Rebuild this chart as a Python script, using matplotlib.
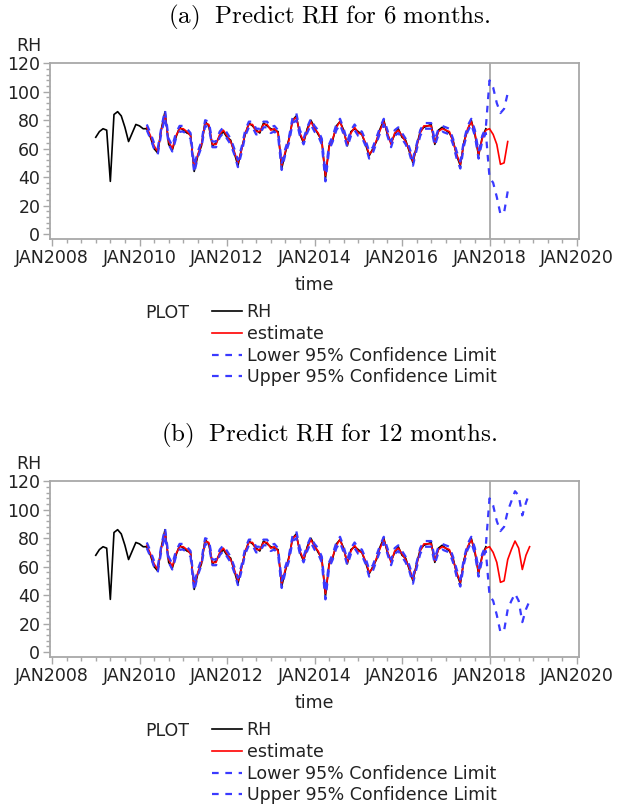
import numpy as np
import matplotlib.pyplot as plt
from matplotlib.ticker import MultipleLocator, FixedLocator

plt.rcParams['mathtext.fontset'] = 'cm'
plt.rcParams['font.family'] = 'DejaVu Sans'

# monthly RH, Jan 2009 - Dec 2017
rh = [68, 72, 74, 73, 37, 84, 86, 83, 75, 65, 71, 77,
      76, 74, 74, 68, 60, 57, 74, 86, 63, 59, 68, 75,
      73, 71, 70, 44, 55, 62, 79, 76, 62, 64, 69, 72,
      68, 66, 57, 48, 60, 70, 78, 76, 73, 71, 78, 76,
      74, 73, 72, 46, 57, 67, 80, 83, 70, 64, 74, 80,
      75, 70, 66, 39, 62, 66, 76, 79, 73, 62, 72, 74,
      72, 70, 63, 55, 60, 65, 74, 80, 70, 64, 70, 74,
      68, 66, 58, 50, 62, 72, 75, 76, 77, 63, 73, 75,
      73, 71, 66, 55, 48, 65, 73, 80, 70, 55, 68, 74]

# one-step estimate and 95% limits, Mar 2010 - Dec 2017
est_fit = [75, 69, 62, 58, 73, 84, 65, 60, 69, 74,
           74, 72, 69, 46, 56, 63, 78, 77, 63, 63, 70, 73,
           69, 65, 58, 50, 59, 71, 77, 77, 72, 72, 77, 77,
           73, 74, 71, 48, 58, 66, 80, 82, 71, 65, 73, 79,
           74, 71, 65, 41, 61, 67, 75, 79, 72, 63, 71, 75,
           71, 70, 64, 56, 59, 66, 73, 79, 71, 63, 71, 73,
           69, 65, 59, 51, 61, 71, 76, 76, 76, 64, 72, 74,
           73, 72, 65, 56, 49, 64, 74, 79, 71, 56, 67, 73]
lower_fit = [73, 67, 60, 56, 71, 82, 63, 58, 67, 72,
             72, 70, 67, 43, 54, 61, 76, 75, 61, 61, 68, 71,
             67, 63, 56, 47, 57, 69, 75, 75, 70, 70, 75, 75,
             71, 72, 69, 45, 56, 64, 78, 80, 69, 63, 71, 77,
             72, 69, 63, 37, 59, 65, 73, 77, 70, 61, 69, 73,
             69, 68, 62, 53, 57, 64, 71, 77, 69, 61, 69, 71,
             67, 63, 57, 48, 59, 69, 74, 74, 74, 62, 70, 72,
             71, 70, 63, 53, 46, 62, 72, 77, 69, 53, 65, 71]
upper_fit = [77, 71, 64, 60, 75, 87, 67, 62, 71, 76,
             76, 74, 71, 48, 58, 65, 80, 79, 65, 65, 72, 75,
             71, 67, 60, 52, 61, 73, 79, 79, 74, 74, 79, 79,
             75, 76, 73, 50, 60, 68, 82, 85, 73, 67, 75, 81,
             76, 73, 67, 43, 63, 69, 77, 81, 74, 65, 73, 77,
             73, 72, 66, 58, 61, 68, 75, 81, 73, 65, 73, 75,
             71, 67, 61, 53, 63, 73, 78, 78, 78, 66, 74, 76,
             75, 74, 67, 58, 51, 66, 76, 81, 73, 58, 69, 75]

# forecasts from Jan 2018
est_fc = [74, 70, 63, 49, 50, 65, 72, 78, 73, 58, 68, 74]
lower_fc = [40, 36, 26, 14, 15, 30, 36, 41, 36, 21, 30, 36]
upper_fc = [108, 103, 92, 85, 88, 99, 106, 113, 110, 96, 105, 112]

horizons = [6, 12]
titles = [r'$\mathrm{(a)\ \ Predict\ RH\ for\ 6\ months.}$',
          r'$\mathrm{(b)\ \ Predict\ RH\ for\ 12\ months.}$']
year_ticks = [2008, 2010, 2012, 2014, 2016, 2018, 2020]

W, H = 624, 805
fig = plt.figure(figsize=(W / 100, H / 100), dpi=100)
grey = '#a8a8a8'
blue = '#3a3aff'
fs = 12.5

t_rh = 2009 + np.arange(len(rh)) / 12
t_fit = 2010 + 2 / 12 + np.arange(len(est_fit)) / 12

for k, h in enumerate(horizons):
    dy = 418 * k
    ax = fig.add_axes([50 / W, 1 - (239 + dy) / H, 529 / W, 176 / H])
    t_fc = 2018 + np.arange(h) / 12
    t_all = np.concatenate([t_fit, t_fc])

    ax.plot(t_rh, rh, color='black', lw=1.2, label='RH')
    ax.plot(t_all, est_fit + est_fc[:h], color='red', lw=1.2, label='estimate')
    ax.plot(t_all, lower_fit + lower_fc[:h], color=blue, lw=1.6,
            dashes=(3, 3), label='Lower 95% Confidence Limit')
    ax.plot(t_all, upper_fit + upper_fc[:h], color=blue, lw=1.6,
            dashes=(3, 3), label='Upper 95% Confidence Limit')
    ax.axvline(2018, color=grey, lw=1.3, zorder=0)

    ax.set_xlim(2008 - 2 / 43.75, 2008 + 527 / 43.75)
    ax.set_ylim(-3.5, 120.2)
    ax.xaxis.set_major_locator(FixedLocator(year_ticks))
    ax.set_xticklabels(['JAN%d' % y for y in year_ticks])
    ax.xaxis.set_minor_locator(MultipleLocator(1 / 3))
    ax.yaxis.set_major_locator(MultipleLocator(20))
    ax.yaxis.set_minor_locator(MultipleLocator(4))
    ax.set_yticks(np.arange(0, 121, 20))
    ax.tick_params(which='both', colors=grey, labelcolor='#222222',
                   labelsize=fs, width=1)
    ax.tick_params(which='major', length=5, pad=2)
    ax.tick_params(which='minor', length=3)
    for s in ax.spines.values():
        s.set_color(grey)
        s.set_linewidth(1.3)

    fig.text(329 / W, 1 - (17 + dy) / H, titles[k], ha='center', va='center',
             fontsize=18)
    fig.text(29 / W, 1 - (46 + dy) / H, 'RH', ha='center', va='center',
             fontsize=fs, color='#222222')
    fig.text(314 / W, 1 - (285 + dy) / H, 'time', ha='center', va='center',
             fontsize=fs, color='#222222')
    fig.text(167 / W, 1 - (313 + dy) / H, 'PLOT', ha='center', va='center',
             fontsize=fs, color='#222222')
    ax.legend(loc='upper left', bbox_to_anchor=(212 / W, 1 - (303 + dy) / H),
              bbox_transform=fig.transFigure, frameon=False, fontsize=fs,
              handlelength=1.75, handletextpad=0.25, labelspacing=0.22,
              borderpad=0, borderaxespad=0, labelcolor='#222222')

fig.savefig('out.png', dpi=100)
